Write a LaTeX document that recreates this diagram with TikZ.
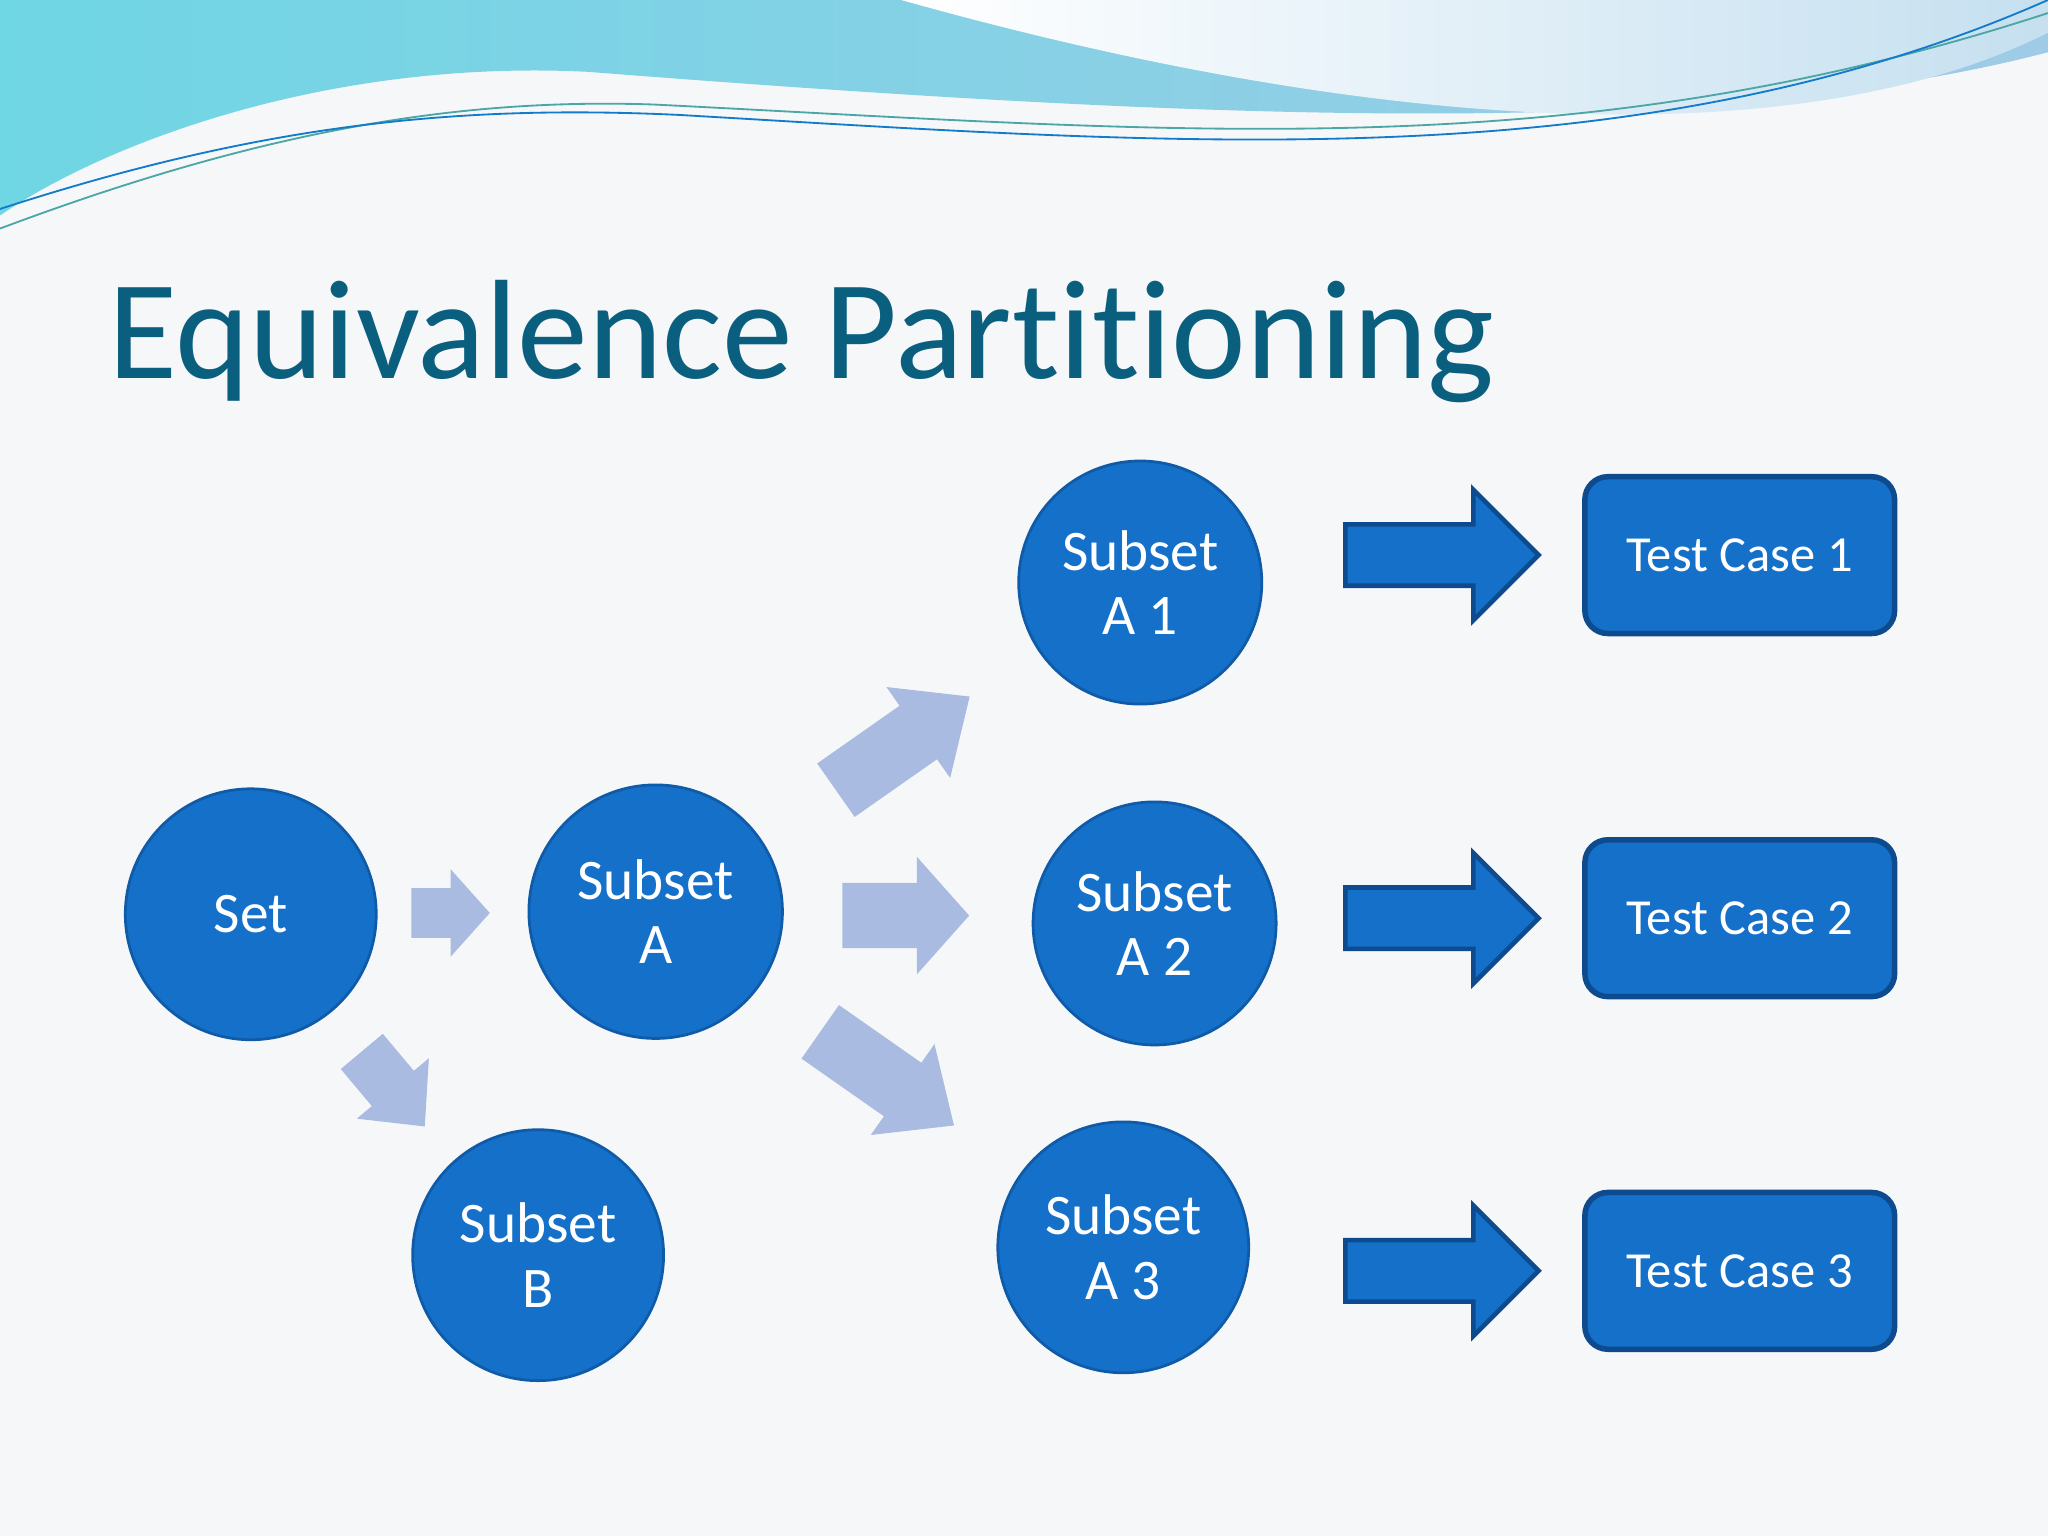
\documentclass[tikz,border=0pt]{standalone}
\usepackage{fontspec}
\setmainfont[Ligatures={NoCommon,NoRequired,NoContextual}]{Carlito}
\definecolor{bg}{HTML}{F6F7F9}
\definecolor{cfill}{HTML}{1470C8}
\definecolor{cedge}{HTML}{0F5BA8}
\definecolor{bedge}{HTML}{0D4A8E}
\definecolor{larr}{HTML}{A9BBE0}
\definecolor{ttl}{HTML}{0B5F7E}
\definecolor{wa}{HTML}{6FD6E4}
\definecolor{wb}{HTML}{9FCBE6}
\tikzset{
 circ/.style={circle,inner sep=0pt,fill=cfill,draw=cedge,line width=0.6pt,text=white,font=\fontsize{12.5}{14}\selectfont,align=center},
 tbox/.style={rectangle,rounded corners=5pt,inner sep=0pt,fill=cfill,draw=bedge,line width=1.2pt,text=white,minimum width=2.37cm,minimum height=1.2cm,font=\fontsize{11}{12}\selectfont},
 bigarr/.style={fill=cfill,draw=bedge,line width=1pt},
 lightarr/.style={fill=larr}
}
\newcommand{\myarr}[9]{% style,x,y,angle,len,shaftw,headw,headlen
 \path[#1,shift={(#2,#3)},rotate=#4] (0,-#6/2) -- (#5-#8,-#6/2) -- (#5-#8,-#7/2) -- (#5,0) -- (#5-#8,#7/2) -- (#5-#8,#6/2) -- (0,#6/2) -- cycle;}
\begin{document}
\begin{tikzpicture}[x=0.01cm,y=-0.01cm]
\fill[bg] (0,0) rectangle (1568,1176);
\useasboundingbox (0,0) rectangle (1568,1176);
% waves
\shade[left color=wa,right color=wb] (0,0) -- (1568,0) -- (1568,40) .. controls (1300,110) and (900,90) .. (450,55) .. controls (250,45) and (80,110) .. (0,165) -- cycle;
\shade[left color=white,right color=wb!60!white] (690,0) -- (1568,0) -- (1568,25) .. controls (1400,110) and (1100,115) .. (690,0) -- cycle;
\draw[teal!70,line width=0.4pt] (0,175) .. controls (200,100) and (350,75) .. (500,80) .. controls (900,100) and (1200,130) .. (1568,10);
\draw[cyan!60!blue,line width=0.4pt] (0,160) .. controls (200,95) and (350,80) .. (520,88) .. controls (900,110) and (1250,140) .. (1568,0);
% title
\node[anchor=base west,text=ttl,font=\fontsize{30.8}{32}\selectfont,inner sep=0] (title) at (82,290) {Equivalence Partitioning};
% circles
\node[circ,minimum size=1.92cm] (set) at (192,700) {Set};
\node[circ,minimum size=1.94cm] (sa) at (502,698) {Subset\\A};
\node[circ,minimum size=1.92cm] (sb) at (412,961) {Subset\\B};
\node[circ,minimum size=1.86cm] (a1) at (873,446) {Subset\\A 1};
\node[circ,minimum size=1.86cm] (a2) at (884,707) {Subset\\A 2};
\node[circ,minimum size=1.92cm] (a3) at (860,955) {Subset\\A 3};
% boxes
\node[tbox] (t1) at (1332,425) {Test Case 1};
\node[tbox] (t2) at (1332,703) {Test Case 2};
\node[tbox] (t3) at (1332,973) {Test Case 3};
% light arrows
\myarr{lightarr}{315}{699}{0}{60}{38}{67}{30}{}
\myarr{lightarr}{277}{805}{-50}{75}{42}{72}{38}{}
\myarr{lightarr}{640}{605}{35}{125}{50}{85}{48}{}
\myarr{lightarr}{645}{701}{0}{97}{50}{90}{40}{}
\myarr{lightarr}{628}{790}{-35}{125}{50}{85}{48}{}
% big arrows
\myarr{bigarr}{1030}{425}{0}{148}{47}{100}{50}{}
\myarr{bigarr}{1030}{703}{0}{148}{47}{100}{50}{}
\myarr{bigarr}{1030}{973}{0}{148}{47}{100}{50}{}
\end{tikzpicture}
\end{document}
